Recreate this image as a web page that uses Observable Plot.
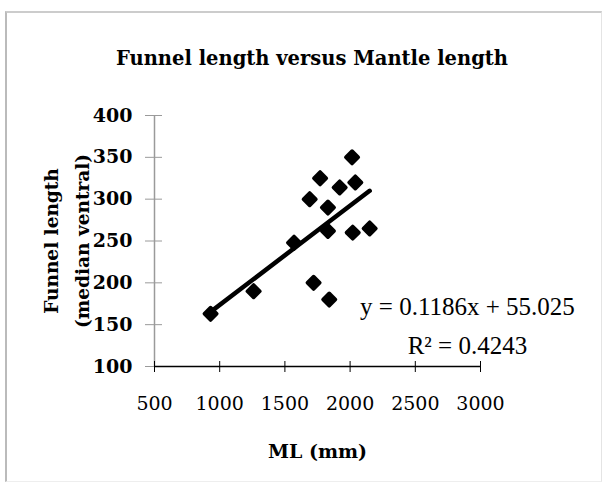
<!DOCTYPE html>
<html>
<head>
<meta charset="utf-8">
<script src="https://cdn.jsdelivr.net/npm/d3@7"></script>
<script src="https://cdn.jsdelivr.net/npm/@observablehq/plot@0.6"></script>
<style>
  html, body { margin: 0; padding: 0; background: #fff; }
  #wrap { position: relative; width: 607px; height: 483px; overflow: hidden; background: #fff; }
  #frame { position: absolute; left: 5px; top: 11px; width: 594px; height: 468px;
           border-left: 2px solid #bbb; border-top: 2px solid #ccc; border-right: 1px solid #e4e4e4; border-bottom: 1px solid #eee; }
  #title { position: absolute; left: 312px; top: 47px; transform: translateX(-50%); white-space: nowrap;
           font-family: "DejaVu Serif", serif; font-weight: bold; font-size: 19.5px; line-height: 24px; color: #000; }
  #chart { position: absolute; left: 0; top: 80px; }
</style>
</head>
<body>
<div id="wrap">
  <div id="frame"></div>
  <div id="title"></div>
  <div id="chart"></div>
</div>
<script>
// ---- data ----
const titleText = "Funnel length versus Mantle length";
const xLabel = "ML (mm)";
const yLabel = "Funnel length\n(median ventral)";
const mantleLength = [930, 1260, 1570, 1690, 1720, 1770, 1830, 1830, 1840, 1920, 2015, 2020, 2040, 2150];
const funnelLength = [163, 190, 248, 300, 200, 325, 290, 262, 180, 314, 350, 260, 320, 265];
const xTicks = [500, 1000, 1500, 2000, 2500, 3000];
const yTicks = [100, 150, 200, 250, 300, 350, 400];
const slope = 0.1186;
const intercept = 55.025;
const equationText = "y = 0.1186x + 55.025";
const r2Text = "R\u00B2 = 0.4243";
const equationAnchor = [2900, 171];
const r2Anchor = [2900, 125];

// ---- build ----
document.getElementById("title").textContent = titleText;

const points = mantleLength.map((x, i) => ({x, y: funnelLength[i]}));
const xExtent = d3.extent(mantleLength);
const trend = xExtent.map(x => ({x, y: slope * x + intercept}));
const fmt = d3.format("d");

const chart = Plot.plot({
  width: 607,
  height: 403,
  marginLeft: 154,
  marginRight: 127,
  marginTop: 35,
  marginBottom: 117,
  style: {fontFamily: "DejaVu Serif, serif", fontSize: "18px", background: "transparent", color: "#000"},
  x: {domain: [xTicks[0], xTicks[xTicks.length - 1]]},
  y: {domain: [yTicks[0], yTicks[yTicks.length - 1]]},
  marks: [
    Plot.ruleX([xTicks[0]], {stroke: "#9a9a9a", strokeWidth: 1.5}),
    Plot.axisY({ticks: yTicks, tickFormat: fmt, tickSize: 17, dx: 8, tickPadding: 13, stroke: "#9a9a9a", fill: "#000",
                fontSize: 19, fontWeight: "bold", label: null}),
    Plot.ruleY([yTicks[0]], {stroke: "#000", strokeWidth: 1.5}),
    Plot.axisX({ticks: xTicks, tickFormat: fmt, tickSize: 11, dy: -5, tickPadding: 24, stroke: "#000", fill: "#000",
                fontSize: 19, label: null}),
    Plot.line(trend, {x: "x", y: "y", stroke: "#000", strokeWidth: 4.5, strokeLinecap: "round"}),
    Plot.dot(points, {x: "x", y: "y", symbol: "diamond2", r: 5.6, fill: "#000", stroke: "#000",
                      strokeWidth: 3.6, strokeLinejoin: "round"}),
    Plot.text([equationText], {x: () => equationAnchor[0], y: () => equationAnchor[1], text: d => d,
                               fontFamily: "Liberation Serif, serif", fontSize: 25, fill: "#000"}),
    Plot.text([r2Text], {x: () => r2Anchor[0], y: () => r2Anchor[1], text: d => d,
                         fontFamily: "Liberation Serif, serif", fontSize: 25, fill: "#000"}),
    Plot.text([xLabel], {frameAnchor: "bottom", dy: 91, text: d => d, fontWeight: "bold", fontSize: 19, fill: "#000"}),
    Plot.text([yLabel], {frameAnchor: "left", dx: -91, rotate: -90, lineHeight: 1.7, textAnchor: "middle",
                         lineAnchor: "middle", text: d => d, fontWeight: "bold", fontSize: 18.5, fill: "#000"})
  ]
});
document.getElementById("chart").appendChild(chart);
</script>
</body>
</html>
